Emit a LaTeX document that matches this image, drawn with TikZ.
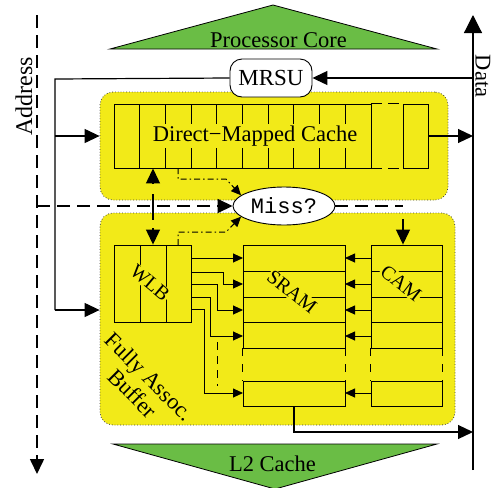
\documentclass[tikz,border=0pt]{standalone}
\usepackage{fontspec}
\setmainfont{Liberation Serif}
\setmonofont{Liberation Mono}
\usetikzlibrary{arrows.meta,shapes.geometric,calc}
\definecolor{boxyellow}{RGB}{242,234,24}
\definecolor{coregreen}{RGB}{106,189,69}
\begin{document}
\begin{tikzpicture}[x=1pt,y=-1pt,
  txt/.style={font=\fontsize{22.5}{24}\selectfont},
  rtxt/.style={font=\fontsize{20}{22}\selectfont},
  bigtip/.style={-{Triangle[length=15pt,width=14pt]}},
  hugetip/.style={-{Triangle[length=18pt,width=18pt]}},
  smalltip/.style={-{Triangle[length=10pt,width=9pt]}},
  mainline/.style={line width=1.2pt},
  cellline/.style={line width=0.9pt},
  addrline/.style={line width=1.6pt, dash pattern=on 13pt off 7pt},
  dashdot/.style={line width=1pt, dash pattern=on 6pt off 3pt on 1.5pt off 3pt},
  ybox/.style={fill=boxyellow, draw=black!75, dotted, line width=0.8pt, rounded corners=13pt, inner sep=0pt},
  cellbox/.style={draw, cellline, inner sep=0pt}]
\useasboundingbox (0,0) rectangle (491,488);

% green triangles
\fill[coregreen] (110,49) -- (273,5) -- (437,49) -- cycle;
\draw[line width=0.8pt] (110,49) -- (273,5) -- (437,49) -- cycle;
\node[txt, anchor=base] (core) at (278.5,47) {Processor Core};
\fill[coregreen] (113,444) -- (437,444) -- (275,489) -- cycle;
\draw[line width=0.8pt] (113,444) -- (437,444) -- (275,489) -- cycle;
\node[txt, anchor=base] (l2) at (272.5,471) {L2 Cache};

% yellow boxes
\node[ybox, minimum width=348pt, minimum height=108pt] (topbox) at (274,146) {};
\node[ybox, minimum width=355pt, minimum height=212pt] (botbox) at (277.5,319) {};

% direct-mapped cache
\node[cellbox, minimum width=257pt, minimum height=64pt] (cache) at (242.5,136) {};
\node[cellbox, minimum width=25pt, minimum height=64pt] (lastcell) at (415.5,136) {};
\foreach \k in {1,...,9} {
  \draw[cellline] (114+25.7*\k,104) -- (114+25.7*\k,168);
}
\draw[cellline, dash pattern=on 11pt off 6pt] (cache.north east) -- (lastcell.north west);
\draw[cellline, dash pattern=on 11pt off 6pt] (cache.south east) -- (lastcell.south west);
\node[txt, fill=boxyellow, inner sep=1.5pt] (cachetxt) at (255,136) {Direct\char"2212 Mapped Cache};

% WLB
\node[cellbox, minimum width=77pt, minimum height=77pt] (wlb) at (152.5,283.5) {};
\draw[cellline] (140,245) -- (140,322);
\draw[cellline] (166,245) -- (166,322);
\node[rtxt, fill=boxyellow, inner sep=1pt, rotate=-40] (wlbtxt) at (150,283) {WLB};

% SRAM
\node[cellbox, minimum width=102pt, minimum height=103pt] (sram) at (294,296.5) {};
\node[cellbox, minimum width=102pt, minimum height=25pt] (sramlast) at (294,393.5) {};
\foreach \y in {271,297,322} { \draw[cellline] (243,\y) -- (345,\y); }
\draw[cellline, dash pattern=on 8pt off 8pt] (sram.south west) -- (sramlast.north west);
\draw[cellline, dash pattern=on 8pt off 8pt] (sram.south east) -- (sramlast.north east);
\node[rtxt, fill=boxyellow, inner sep=1pt, rotate=-38] (sramtxt) at (292,292) {SRAM};

% CAM
\node[cellbox, minimum width=71pt, minimum height=103pt] (cam) at (406.5,296.5) {};
\node[cellbox, minimum width=71pt, minimum height=25pt] (camlast) at (406.5,393.5) {};
\foreach \y in {271,297,322} { \draw[cellline] (371,\y) -- (442,\y); }
\draw[cellline, dash pattern=on 8pt off 8pt] (cam.south west) -- (camlast.north west);
\draw[cellline, dash pattern=on 8pt off 8pt] (cam.south east) -- (camlast.north east);
\node[rtxt, fill=boxyellow, inner sep=1pt, rotate=-38] (camtxt) at (401,283) {CAM};

% Fully assoc label
\node[txt, rotate=-45, align=center, font=\fontsize{22.5}{23.5}\selectfont] (fab) at (141,385) {Fully Assoc.\\Buffer};

% MRSU and Miss?
\node[draw, fill=white, line width=0.9pt, rounded corners=12pt, minimum width=82pt, minimum height=38pt, inner sep=0pt, font=\fontsize{23}{25}\selectfont] (mrsu) at (271,78) {MRSU};
\node[draw, fill=white, ellipse, line width=0.9pt, minimum width=102pt, minimum height=38pt, inner sep=0pt, font=\ttfamily\fontsize{22}{24}\selectfont] (miss) at (284,206) {Miss?};

% Address / Data
\coordinate (atop) at (37,15);
\coordinate (abot) at (37,474);
\coordinate (abr) at (37,206);
\draw[addrline, bigtip] (atop) -- (abot);
\draw[addrline, bigtip] (abr) -- (miss.west);
\node[font=\fontsize{24}{26}\selectfont, rotate=90, anchor=base] (addrtxt) at (32,96) {Address};

\coordinate (dtop) at (473,15);
\coordinate (dbot) at (473,470);
\draw[mainline, hugetip] (dbot) -- (dtop);
\node[font=\fontsize{22.5}{24}\selectfont, rotate=-90, anchor=base, inner sep=0pt] (datatxt) at (475.5,76) {Data};

% MRSU connections
\draw[mainline, bigtip] (mrsu.east -| dtop) -- (mrsu.east);
\coordinate (lk) at (55,79);
\coordinate (lt) at (55,136);
\coordinate (lb) at (55,310);
\draw[mainline] (mrsu.west) -- (lk) -- (lb);
\draw[mainline, bigtip] (lt) -- (lt -| topbox.west);
\draw[mainline, bigtip] (lb) -- (lb -| botbox.west);

% cache output
\draw[mainline, bigtip] (lastcell.east) -- (lastcell.east -| dtop);

% cache <-> WLB
\coordinate (v1) at (153,194);
\coordinate (v2) at (153,220);
\coordinate (v3) at (153,184);
\coordinate (v4) at (153,228);
\draw[mainline] (v1) -- (v2);
\draw[mainline, bigtip] (v3) -- (v3 |- cache.south);
\draw[mainline, bigtip] (v4) -- (v4 |- wlb.north);

% dash-dot to Miss?
\draw[dashdot, smalltip] (178,168) -- (178,179) -- (226,179) -- (miss.166);
\draw[dashdot, smalltip] (178,245) -- (178,232) -- (226,232) -- (miss.194);

% Miss? -> CAM
\coordinate (mc) at (403,206);
\coordinate (mc2) at (403,219);
\draw[addrline] (miss.east) -- (mc);
\draw[mainline, bigtip] (mc2) -- (mc2 |- cam.north);

% WLB -> SRAM
\draw[cellline, smalltip] (191,258) -- (243,258);
\draw[cellline, smalltip] (191,272) -- (223,272) -- (223,284) -- (243,284);
\draw[cellline, smalltip] (191,284) -- (217,284) -- (217,310) -- (243,310);
\draw[cellline, smalltip] (191,297) -- (210,297) -- (210,336) -- (243,336);
\draw[cellline, smalltip] (191,309) -- (204,309) -- (204,393) -- (243,393);
\draw[cellline, dash pattern=on 8pt off 6pt] (217,342) -- (217,386);

% CAM -> SRAM
\foreach \y in {258,284,310,336,393} {
  \draw[cellline, smalltip] (371,\y) -- (345,\y);
}

% SRAM -> Data
\coordinate (sout) at (473,432);
\draw[mainline, bigtip] (sramlast.south) |- (sout);
\end{tikzpicture}
\end{document}
